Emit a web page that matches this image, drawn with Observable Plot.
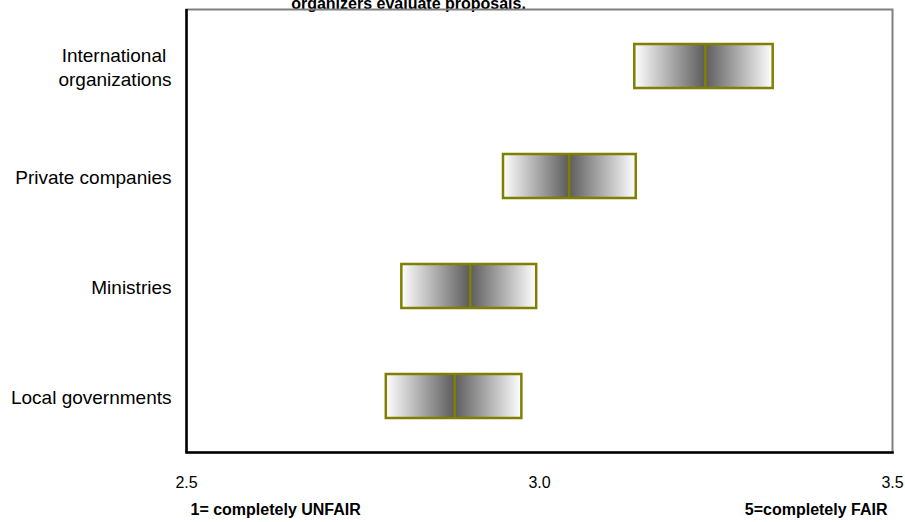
<!DOCTYPE html>
<html>
<head>
<meta charset="utf-8">
<script src="https://cdn.jsdelivr.net/npm/d3@7"></script>
<script src="https://cdn.jsdelivr.net/npm/@observablehq/plot@0.6"></script>
<style>
  html, body { margin: 0; padding: 0; background: #fff; }
  #chart { width: 905px; height: 522px; overflow: hidden; }
</style>
</head>
<body>
<div id="chart"></div>
<script>
const categories = ["International\u00a0\norganizations", "Private companies", "Ministries", "Local governments"];
const lows = [3.135, 2.949, 2.805, 2.783];
const medians = [3.235, 3.042, 2.902, 2.880];
const highs = [3.331, 3.137, 2.996, 2.975];
const xTicks = [2.5, 3.0, 3.5];
const titleLine = "organizers evaluate proposals.";
const leftNote = "1= completely UNFAIR";
const rightNote = "5=completely FAIR";

const rows = categories.map((c, i) => ({cat: c, lo: lows[i], med: medians[i], hi: highs[i]}));

const defs = () => {
  const d = d3.create("svg:defs");
  const gL = d.append("linearGradient").attr("id", "gL").attr("x1", "0").attr("x2", "1").attr("y1", "0").attr("y2", "0");
  gL.append("stop").attr("offset", "0").attr("stop-color", "#ffffff");
  gL.append("stop").attr("offset", "1").attr("stop-color", "#5c5c5c");
  const gR = d.append("linearGradient").attr("id", "gR").attr("x1", "0").attr("x2", "1").attr("y1", "0").attr("y2", "0");
  gR.append("stop").attr("offset", "0").attr("stop-color", "#5c5c5c");
  gR.append("stop").attr("offset", "1").attr("stop-color", "#ffffff");
  return d.node();
};

const olive = "#808000";

const plot = Plot.plot({
  width: 905,
  height: 522,
  marginLeft: 186,
  marginRight: 13,
  marginTop: 9,
  marginBottom: 70,
  style: {fontFamily: "Liberation Sans, Arial, sans-serif", background: "#fff"},
  x: {domain: [2.5, 3.5]},
  y: {domain: categories, paddingInner: 0.6, paddingOuter: 0.3},
  marks: [
    defs,
    Plot.axisX({ticks: xTicks, tickFormat: d3.format(".1f"), tickSize: 0, tickPadding: 24, fontSize: 16, fill: "#000", label: null}),
    Plot.axisY({tickSize: 0, tickPadding: 15, fontSize: 19, fill: "#000", label: null, lineHeight: 1.25}),
    Plot.barX(rows, {x1: "lo", x2: "med", y: "cat", fill: "url(#gL)"}),
    Plot.barX(rows, {x1: "med", x2: "hi", y: "cat", fill: "url(#gR)"}),
    Plot.barX(rows, {x1: "lo", x2: "hi", y: "cat", fill: "none", stroke: olive, strokeWidth: 2.5}),
    Plot.tickX(rows, {x: "med", y: "cat", stroke: olive, strokeWidth: 2.5}),
    Plot.text([titleLine], {frameAnchor: "top", dx: -131, dy: -1, lineAnchor: "bottom", fontSize: 16, fontWeight: "bold", fill: "#000"}),
    Plot.frame({stroke: "#808080", strokeWidth: 2}),
    Plot.frame({anchor: "bottom", stroke: "#000", strokeWidth: 2.5}),
    Plot.ruleX([2.5], {stroke: "#000", strokeWidth: 2.5}),
    Plot.text([leftNote], {frameAnchor: "bottom-left", dx: 4, dy: 62, fontSize: 16, fontWeight: "bold", fill: "#000", textAnchor: "start"}),
    Plot.text([rightNote], {frameAnchor: "bottom-right", dx: -5, dy: 62, fontSize: 16, fontWeight: "bold", fill: "#000", textAnchor: "end"})
  ]
});
document.getElementById("chart").appendChild(plot);
</script>
</body>
</html>
